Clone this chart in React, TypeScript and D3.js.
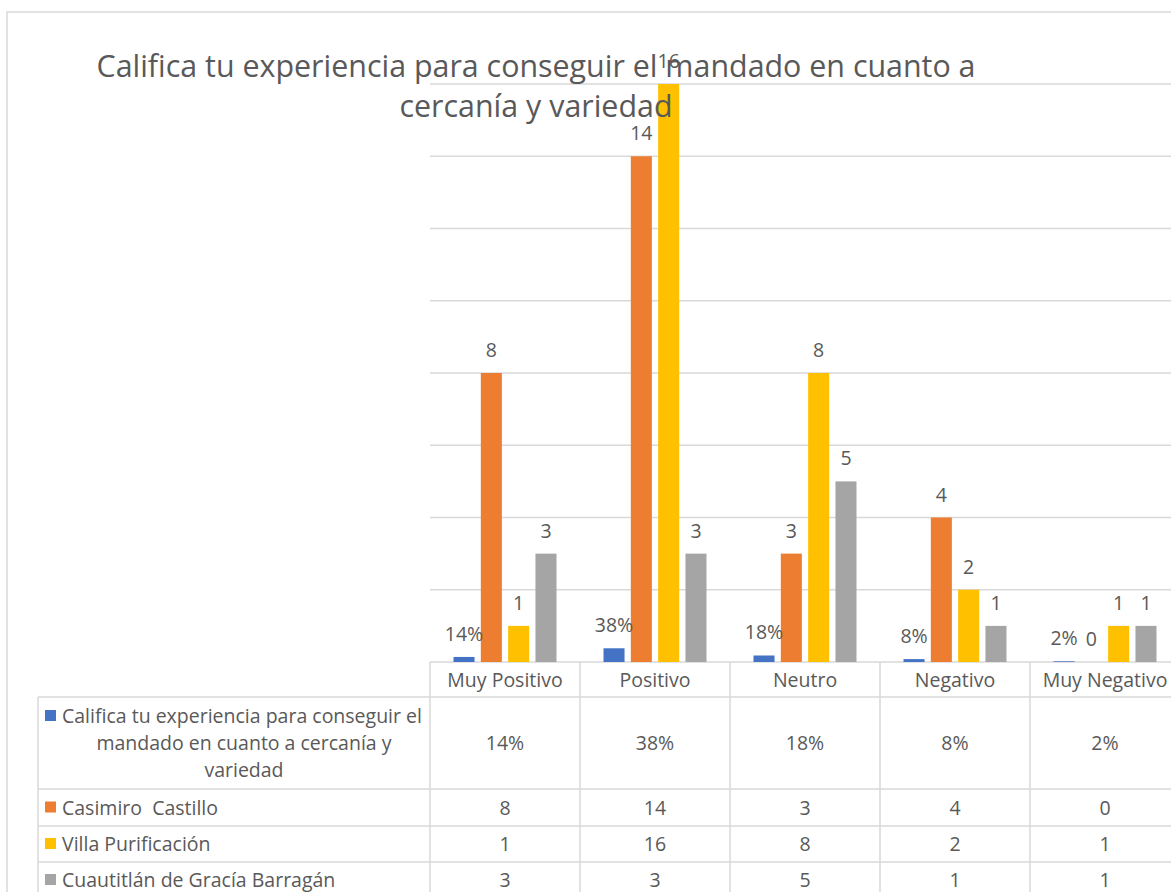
import React from "react";
import * as d3 from "d3";

const categories = ["Muy Positivo", "Positivo", "Neutro", "Negativo", "Muy Negativo"];
const seriesNames = [
  "Califica tu experiencia para conseguir el mandado en cuanto a cercanía y variedad",
  "Casimiro  Castillo",
  "Villa Purificación",
  "Cuautitlán de Gracía Barragán",
];
const seriesColors = ["#4472C4", "#ED7D31", "#FFC000", "#A5A5A5"];
const pctValues = [0.14, 0.38, 0.18, 0.08, 0.02];
const casimiroValues = [8, 14, 3, 4, 0];
const villaValues = [1, 16, 8, 2, 1];
const cuautitlanValues = [3, 3, 5, 1, 1];
const yTicks = [0, 2, 4, 6, 8, 10, 12, 14, 16];
const titleLines = ["Califica tu experiencia para conseguir el mandado en cuanto a", "cercanía y variedad"];
const firstRowLines = ["Califica tu experiencia para conseguir el", "mandado en cuanto a cercanía y", "variedad"];

const W = 1171;
const H = 892;
const FONT = "'Open Sans', sans-serif";
const TXT = "#595959";
const GRID = "#d9d9d9";
const FS = 19.5;

export default function App() {
  const allSeries = [pctValues, casimiroValues, villaValues, cuautitlanValues];
  const fmt = (si: number, v: number) => (si === 0 ? `${Math.round(v * 100)}%` : `${v}`);

  const x = d3.scaleBand<string>().domain(categories).range([430, 1180]).padding(0);
  const xs = d3
    .scaleBand<number>()
    .domain([0, 1, 2, 3])
    .range([23.5, 126.5])
    .paddingInner(0.23)
    .paddingOuter(0);
  const y = d3.scaleLinear().domain([0, 16]).range([662, 84]);

  const tableLeft = 38;
  const rowBounds = [662, 697, 789, 826, 862, 898];
  const colEdges = [430, ...categories.map((c) => (x(c) as number) + x.bandwidth())];

  return (
    <svg width={W} height={H} style={{ display: "block", position: "absolute", left: 0, top: 0 }}>
      <rect x={0} y={0} width={W} height={H} fill="#fff" />
      <rect x={7} y={12} width={W + 20} height={H + 20} fill="none" stroke={GRID} strokeWidth={1.5} />
      {yTicks.map((t) => (
        <line key={t} x1={430} x2={W} y1={y(t)} y2={y(t)} stroke={GRID} strokeWidth={1.5} />
      ))}
      {categories.map((c, ci) =>
        allSeries.map((vals, si) => {
          const v = vals[ci];
          const bx = (x(c) as number) + (xs(si) as number);
          return (
            <rect key={`${ci}-${si}`} x={bx} y={y(v)} width={xs.bandwidth()} height={y(0) - y(v)} fill={seriesColors[si]} />
          );
        })
      )}
      {titleLines.map((l, i) => (
        <text key={i} x={536} y={77 + i * 40} textAnchor="middle" fontFamily={FONT} fontSize={30.4} fill={TXT}>
          {l}
        </text>
      ))}
      {categories.map((c, ci) =>
        allSeries.map((vals, si) => {
          const v = vals[ci];
          const cx = (x(c) as number) + (xs(si) as number) + xs.bandwidth() / 2;
          return (
            <text key={`l${ci}-${si}`} x={cx} y={y(v) - 16} textAnchor="middle" fontFamily={FONT} fontSize={FS} fill={TXT}>
              {fmt(si, v)}
            </text>
          );
        })
      )}
      {rowBounds.slice(1).map((yy, i) => (
        <line key={`h${i}`} x1={tableLeft} x2={W} y1={yy} y2={yy} stroke={GRID} strokeWidth={1.5} />
      ))}
      {colEdges.map((xx, i) => (
        <line key={`v${i}`} x1={xx} x2={xx} y1={662} y2={H} stroke={GRID} strokeWidth={1.5} />
      ))}
      <line x1={tableLeft} x2={tableLeft} y1={697} y2={H} stroke={GRID} strokeWidth={1.5} />
      {categories.map((c) => (
        <text key={`c${c}`} x={(x(c) as number) + x.bandwidth() / 2} y={687} textAnchor="middle" fontFamily={FONT} fontSize={FS} fill={TXT}>
          {c}
        </text>
      ))}
      <rect x={45} y={710} width={11} height={11} fill={seriesColors[0]} />
      {firstRowLines.map((l, i) => (
        <text key={`r0${i}`} x={i === 0 ? 62 : 244} y={723 + i * 27} textAnchor={i === 0 ? "start" : "middle"} fontFamily={FONT} fontSize={FS} fill={TXT}>
          {l}
        </text>
      ))}
      {seriesNames.slice(1).map((n, i) => {
        const r0 = rowBounds[i + 2];
        const r1 = rowBounds[i + 3];
        const cy = (r0 + r1) / 2;
        return (
          <g key={`rn${i}`}>
            <rect x={45} y={cy - 6} width={11} height={11} fill={seriesColors[i + 1]} />
            <text x={62} y={cy + 7} fontFamily={FONT} fontSize={FS} fill={TXT} style={{ whiteSpace: "pre" }}>
              {n}
            </text>
          </g>
        );
      })}
      {allSeries.map((vals, si) => {
        const cy = (rowBounds[si + 1] + rowBounds[si + 2]) / 2;
        return vals.map((v, ci) => (
          <text key={`t${si}-${ci}`} x={(x(categories[ci]) as number) + x.bandwidth() / 2} y={cy + 7} textAnchor="middle" fontFamily={FONT} fontSize={FS} fill={TXT}>
            {fmt(si, v)}
          </text>
        ));
      })}
    </svg>
  );
}
